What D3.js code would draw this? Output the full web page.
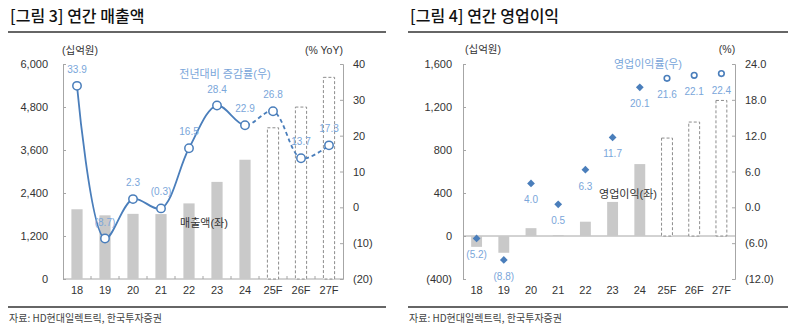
<!DOCTYPE html>
<html><head><meta charset="utf-8">
<script src="https://cdn.jsdelivr.net/npm/d3@7"></script>
<style>
html,body{margin:0;padding:0;background:#fff;}
svg{display:block;font-family:"Liberation Sans","Noto Sans CJK KR",sans-serif;}
</style></head>
<body><svg id="c" width="800" height="334"></svg>
<script>
// ---------- data ----------
const categories = ["18","19","20","21","22","23","24","25F","26F","27F"];
const forecastFlags = [false,false,false,false,false,false,false,true,true,true];
const salesValues = [1946,1777,1818,1812,2110,2710,3328,4220,4798,5628];
const salesYoY = [33.9,-8.7,2.3,-0.3,16.5,28.4,22.9,26.8,13.7,17.3];
const opProfitValues = [-101,-156,73,9,133,317,669,911,1060,1261];
const opMargin = [-5.2,-8.8,4.0,0.5,6.3,11.7,20.1,21.6,22.1,22.4];
const salesLeftTicks = [0,1200,2400,3600,4800,6000];
const salesRightTicks = [-20,-10,0,10,20,30,40];
const opLeftTicks = [-400,0,400,800,1200,1600];
const opRightTicks = [-12,-6,0,6,12,18,24];

const svg = d3.select("#c");
const AXIS = "#a6a6a6", TXT = "#333", BLUE = "#4a7ebb", LBLUE = "#7aa6da", BAR = "#c9c9c9";
const paren = (f) => (v) => v < 0 ? "(" + f(-v) + ")" : f(v);

function frame(x0, x1, title) {
  svg.append("text").attr("x", x0 + 2).attr("y", 22).attr("font-size", 16)
    .attr("font-family", "Noto Sans CJK KR").attr("font-weight", 500).attr("fill", "#111").text(title);
  svg.append("line").attr("x1", x0).attr("x2", x1).attr("y1", 32).attr("y2", 32)
    .attr("stroke", "#333").attr("stroke-width", 1.5);
  svg.append("line").attr("x1", x0).attr("x2", x1).attr("y1", 307).attr("y2", 307)
    .attr("stroke", "#333").attr("stroke-width", 1.5);
  svg.append("text").attr("x", x0 + 1).attr("y", 322).attr("font-size", 10).attr("fill", "#444")
    .attr("font-family", "Noto Sans CJK KR").text("자료: HD현대일렉트릭, 한국투자증권");
}

function styleAxis(g) {
  g.selectAll("path,line").attr("stroke", AXIS);
  g.selectAll("text").attr("fill", TXT).attr("font-size", 11);
  g.select(".domain").attr("stroke", AXIS);
}

// ---------- chart 1 ----------
(function () {
  frame(8, 386, "[그림 3] 연간 매출액");
  const left = 63, right = 343, top = 64, bottom = 279;
  const x = d3.scaleBand().domain(categories).range([left, right]).paddingInner(0.6).paddingOuter(0.3);
  const yL = d3.scaleLinear().domain([0, 6000]).range([bottom, top]);
  const yR = d3.scaleLinear().domain([-20, 40]).range([bottom, top]);

  const gl = svg.append("g").attr("transform", `translate(${left},0)`)
    .call(d3.axisLeft(yL).tickValues(salesLeftTicks).tickFormat(d3.format(",")).tickSize(-3).tickPadding(15));
  styleAxis(gl);
  const gr = svg.append("g").attr("transform", `translate(${right},0)`)
    .call(d3.axisRight(yR).tickValues(salesRightTicks).tickFormat(paren(d3.format("d"))).tickSize(-3).tickPadding(10));
  styleAxis(gr);
  const gb = svg.append("g").attr("transform", `translate(0,${bottom})`)
    .call(d3.axisBottom(x).tickSize(0).tickPadding(7));
  styleAxis(gb);
  gb.select(".domain").attr("d", `M${left},0H${right}`);
  d3.range(1, categories.length).forEach(i => {
    const bx = left + i * x.step();
    svg.append("line").attr("x1", bx).attr("x2", bx).attr("y1", bottom).attr("y2", bottom - 3).attr("stroke", AXIS);
  });

  categories.forEach((c, i) => {
    const v = salesValues[i];
    const r = svg.append("rect").attr("x", x(c)).attr("width", x.bandwidth())
      .attr("y", yL(v)).attr("height", yL(0) - yL(v));
    if (forecastFlags[i]) r.attr("fill", "#fff").attr("stroke", "#8c8c8c").attr("stroke-width", 1).attr("stroke-dasharray", "3,2");
    else r.attr("fill", BAR);
  });

  const pts = categories.map((c, i) => [x(c) + x.bandwidth() / 2, yR(salesYoY[i])]);
  const line = d3.line().curve(d3.curveCatmullRom.alpha(0.5));
  const splitX = pts[6][0];
  const defs = svg.append("defs");
  defs.append("clipPath").attr("id", "cA").append("rect").attr("x", 0).attr("y", 0).attr("width", splitX).attr("height", 334);
  defs.append("clipPath").attr("id", "cB").append("rect").attr("x", splitX).attr("y", 0).attr("width", 400 - splitX).attr("height", 334);
  svg.append("path").attr("d", line(pts)).attr("fill", "none").attr("stroke", BLUE).attr("stroke-width", 1.8).attr("clip-path", "url(#cA)");
  svg.append("path").attr("d", line(pts)).attr("fill", "none").attr("stroke", BLUE).attr("stroke-width", 1.8)
    .attr("stroke-dasharray", "4,3").attr("clip-path", "url(#cB)");
  pts.forEach((p, i) => {
    svg.append("circle").attr("cx", p[0]).attr("cy", p[1]).attr("r", 4.2).attr("fill", "#fff").attr("stroke", BLUE).attr("stroke-width", 1.5);
    svg.append("text").attr("x", p[0]).attr("y", p[1] - 13).attr("text-anchor", "middle").attr("font-size", 10)
      .attr("fill", LBLUE).text(paren(d3.format(".1f"))(salesYoY[i]));
  });

  svg.append("text").attr("x", 80).attr("y", 54).attr("text-anchor", "middle").attr("font-size", 10.5).attr("fill", TXT).text("(십억원)");
  svg.append("text").attr("x", 324).attr("y", 54).attr("text-anchor", "middle").attr("font-size", 10.5).attr("fill", TXT).text("(% YoY)");
  svg.append("text").attr("x", 225).attr("y", 78).attr("text-anchor", "middle").attr("font-size", 11).attr("fill", LBLUE).text("전년대비 증감률(우)");
  svg.append("text").attr("x", 204).attr("y", 227).attr("text-anchor", "middle").attr("font-size", 11).attr("fill", TXT).text("매출액(좌)");
})();

// ---------- chart 2 ----------
(function () {
  frame(408, 788, "[그림 4] 연간 영업이익");
  const left = 463, right = 735, top = 64, bottom = 279;
  const x = d3.scaleBand().domain(categories).range([left, right]).paddingInner(0.6).paddingOuter(0.3);
  const yL = d3.scaleLinear().domain([-400, 1600]).range([bottom, top]);
  const yR = d3.scaleLinear().domain([-12, 24]).range([bottom, top]);

  const gl = svg.append("g").attr("transform", `translate(${left},0)`)
    .call(d3.axisLeft(yL).tickValues(opLeftTicks).tickFormat(paren(d3.format(","))).tickSize(-3).tickPadding(11));
  styleAxis(gl);
  const gr = svg.append("g").attr("transform", `translate(${right},0)`)
    .call(d3.axisRight(yR).tickValues(opRightTicks).tickFormat(paren(d3.format(".1f"))).tickSize(-3).tickPadding(10));
  styleAxis(gr);
  const zeroY = yL(0);
  const gb = svg.append("g").attr("transform", `translate(0,${bottom})`)
    .call(d3.axisBottom(x).tickSize(0).tickPadding(7));
  styleAxis(gb);
  gb.select(".domain").remove();
  svg.append("line").attr("x1", left).attr("x2", right).attr("y1", zeroY).attr("y2", zeroY).attr("stroke", AXIS);

  categories.forEach((c, i) => {
    const v = opProfitValues[i];
    const r = svg.append("rect").attr("x", x(c)).attr("width", x.bandwidth())
      .attr("y", Math.min(yL(v), zeroY)).attr("height", Math.abs(yL(v) - zeroY));
    if (forecastFlags[i]) r.attr("fill", "#fff").attr("stroke", "#8c8c8c").attr("stroke-width", 1).attr("stroke-dasharray", "3,2");
    else r.attr("fill", BAR);
  });

  const square = d3.symbol().type(d3.symbolSquare).size(30);
  categories.forEach((c, i) => {
    const cx = x(c) + x.bandwidth() / 2, cy = yR(opMargin[i]);
    if (forecastFlags[i]) {
      svg.append("circle").attr("cx", cx).attr("cy", cy).attr("r", 2.8).attr("fill", "#fff").attr("stroke", BLUE).attr("stroke-width", 1.6);
    } else {
      svg.append("path").attr("d", square).attr("transform", `translate(${cx},${cy}) rotate(45)`).attr("fill", BLUE);
    }
    svg.append("text").attr("x", cx).attr("y", cy + 20).attr("text-anchor", "middle").attr("font-size", 10)
      .attr("fill", LBLUE).text(paren(d3.format(".1f"))(opMargin[i]));
  });

  svg.append("text").attr("x", 483).attr("y", 53).attr("text-anchor", "middle").attr("font-size", 10.5).attr("fill", TXT).text("(십억원)");
  svg.append("text").attr("x", 727).attr("y", 53).attr("text-anchor", "middle").attr("font-size", 10.5).attr("fill", TXT).text("(%)");
  svg.append("text").attr("x", 648).attr("y", 68).attr("text-anchor", "middle").attr("font-size", 11).attr("fill", LBLUE).text("영업이익률(우)");
  svg.append("text").attr("x", 628).attr("y", 198).attr("text-anchor", "middle").attr("font-size", 11).attr("fill", TXT).text("영업이익(좌)");
})();
</script></body></html>
